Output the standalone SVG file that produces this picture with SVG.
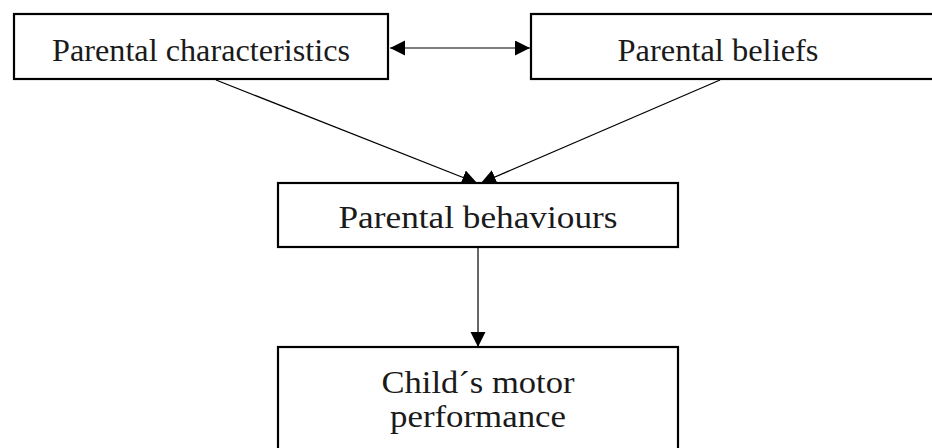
<svg xmlns="http://www.w3.org/2000/svg" width="932" height="448" viewBox="0 0 932 448">
<style>
.box{fill:#fff;stroke:#000;stroke-width:2.2}
.lbl{font-family:"Liberation Serif","Times New Roman",serif;font-size:32px;fill:#1a1a1a;text-anchor:middle}
.ln{stroke:#000;stroke-width:1.2;fill:none}
</style>
<defs>
<marker id="ah" markerUnits="userSpaceOnUse" markerWidth="16" markerHeight="16" refX="15" refY="7.5" orient="auto-start-reverse">
<path d="M0,0 L15,7.5 L0,15 Z" fill="#000"/>
</marker>
</defs>
<rect width="932" height="448" fill="#fff"/>
<g id="connectors">
<line class="ln" x1="390" y1="48" x2="530" y2="48" marker-start="url(#ah)" marker-end="url(#ah)"/>
<line class="ln" x1="216" y1="80" x2="477" y2="183" marker-end="url(#ah)"/>
<line class="ln" x1="720" y1="80" x2="481" y2="183" marker-end="url(#ah)"/>
<line class="ln" x1="478" y1="248" x2="478" y2="347" marker-end="url(#ah)"/>
</g>
<g id="parental-characteristics">
<rect class="box" x="14" y="14" width="374" height="65"/>
<text class="lbl" x="201" y="61" textLength="298" lengthAdjust="spacingAndGlyphs">Parental characteristics</text>
</g>
<g id="parental-beliefs">
<rect class="box" x="531" y="14" width="420" height="65"/>
<text class="lbl" x="718" y="61" textLength="201" lengthAdjust="spacingAndGlyphs">Parental beliefs</text>
</g>
<g id="parental-behaviours">
<rect class="box" x="278" y="183" width="400" height="64"/>
<text class="lbl" x="478" y="228" textLength="279" lengthAdjust="spacingAndGlyphs">Parental behaviours</text>
</g>
<g id="child-motor-performance">
<rect class="box" x="278" y="347" width="400" height="120"/>
<text class="lbl" x="478" y="393" textLength="193" lengthAdjust="spacingAndGlyphs">Child´s motor</text>
<text class="lbl" x="478" y="427" textLength="176" lengthAdjust="spacingAndGlyphs">performance</text>
</g>
</svg>
